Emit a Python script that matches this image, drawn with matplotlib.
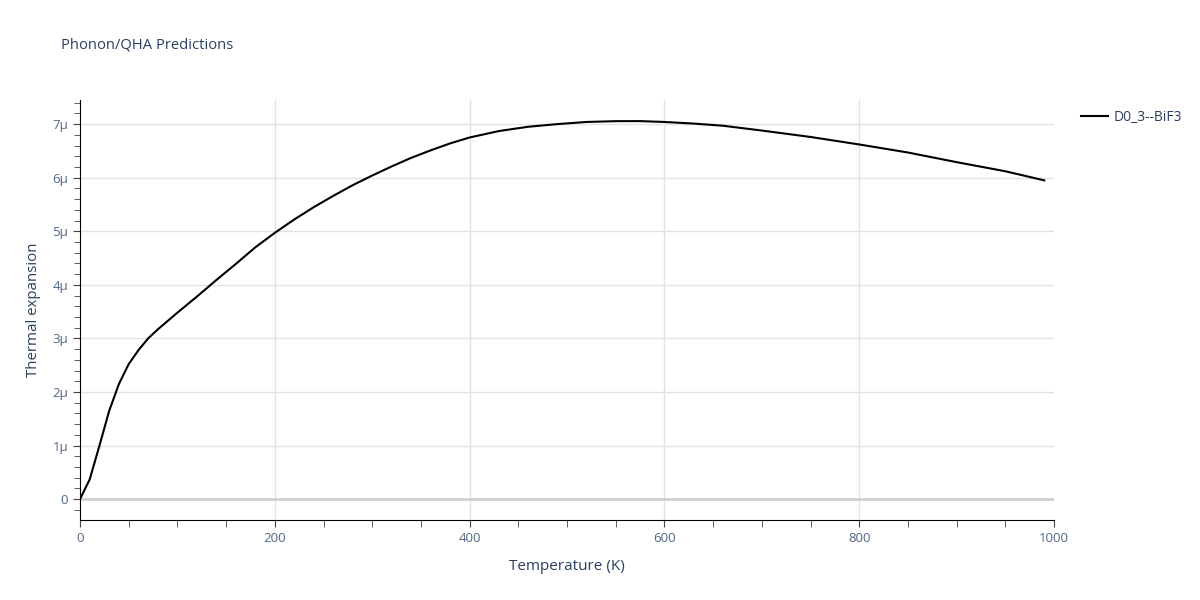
import matplotlib
matplotlib.use("Agg")
import matplotlib.pyplot as plt
from matplotlib.ticker import MultipleLocator, FuncFormatter

# temperature (K) and thermal expansion (1e-6 units)
temp = [0, 10, 20, 30, 40, 50, 60, 70, 80, 100, 120, 140, 160, 180, 200,
        220, 240, 260, 280, 300, 320, 340, 360, 380, 400, 430, 460, 490,
        520, 550, 575, 600, 630, 660, 700, 750, 800, 850, 900, 950, 990]
alpha = [0.0, 0.37, 1.0, 1.65, 2.15, 2.52, 2.78, 3.0, 3.17, 3.48, 3.78,
         4.09, 4.39, 4.70, 4.97, 5.22, 5.45, 5.66, 5.86, 6.04, 6.21, 6.37,
         6.51, 6.64, 6.75, 6.87, 6.95, 7.0, 7.04, 7.055, 7.056, 7.04, 7.01,
         6.97, 6.88, 6.76, 6.62, 6.47, 6.29, 6.12, 5.95]
label = "D0_3--BiF3"

txt = "#2a3f5f"
tick_col = "#506784"

plt.rcParams["font.family"] = ["Open Sans", "DejaVu Sans"]

fig = plt.figure(figsize=(12, 6), dpi=100)
ax = fig.add_axes([80/1200, 80/600, 974/1200, 420/600])

ax.plot(temp, alpha, "-", color="black", lw=1.5, label=label, zorder=3)

ax.set_xlim(0, 1000)
ax.set_ylim(-0.39, 7.45)

ax.xaxis.set_major_locator(MultipleLocator(200))
ax.xaxis.set_minor_locator(MultipleLocator(50))
ax.yaxis.set_major_locator(MultipleLocator(1))
ax.yaxis.set_minor_locator(MultipleLocator(0.2))

def fmt_mu(v, pos):
    if abs(v) < 1e-9:
        return "0"
    return "%dμ" % round(v)

ax.yaxis.set_major_formatter(FuncFormatter(fmt_mu))

# grid lines, none on the plot edges
for xv in [200, 400, 600, 800]:
    ax.axvline(xv, color="#e2e2e2", lw=1, zorder=0)
for yv in [1, 2, 3, 4, 5, 6, 7]:
    ax.axhline(yv, color="#e2e2e2", lw=1, zorder=0)
ax.axhline(0, color="#d0d0d0", lw=2, zorder=1)

for s in ["top", "right"]:
    ax.spines[s].set_visible(False)
ax.spines["left"].set_color("black")
ax.spines["bottom"].set_color("black")

ax.tick_params(which="both", direction="out", length=5, color="#444444",
               labelsize=9.5, labelcolor=tick_col)
ax.tick_params(axis="y", which="minor", length=4)

ax.set_xlabel("Temperature (K)", fontsize=11, color=txt, labelpad=10)
ax.set_ylabel("Thermal expansion", fontsize=10.8, color=txt, labelpad=8)

fig.text(61/1200, 1 - 45/600, "Phonon/QHA Predictions", fontsize=10.6,
         color=txt, va="center", ha="left")

leg = ax.legend(loc="upper left", bbox_to_anchor=(1.018, 1.0), frameon=False,
                fontsize=10, handlelength=1.9, handletextpad=0.45,
                borderaxespad=0.3)
for t in leg.get_texts():
    t.set_color(txt)

fig.savefig("out.png", dpi=100)
plt.close()
